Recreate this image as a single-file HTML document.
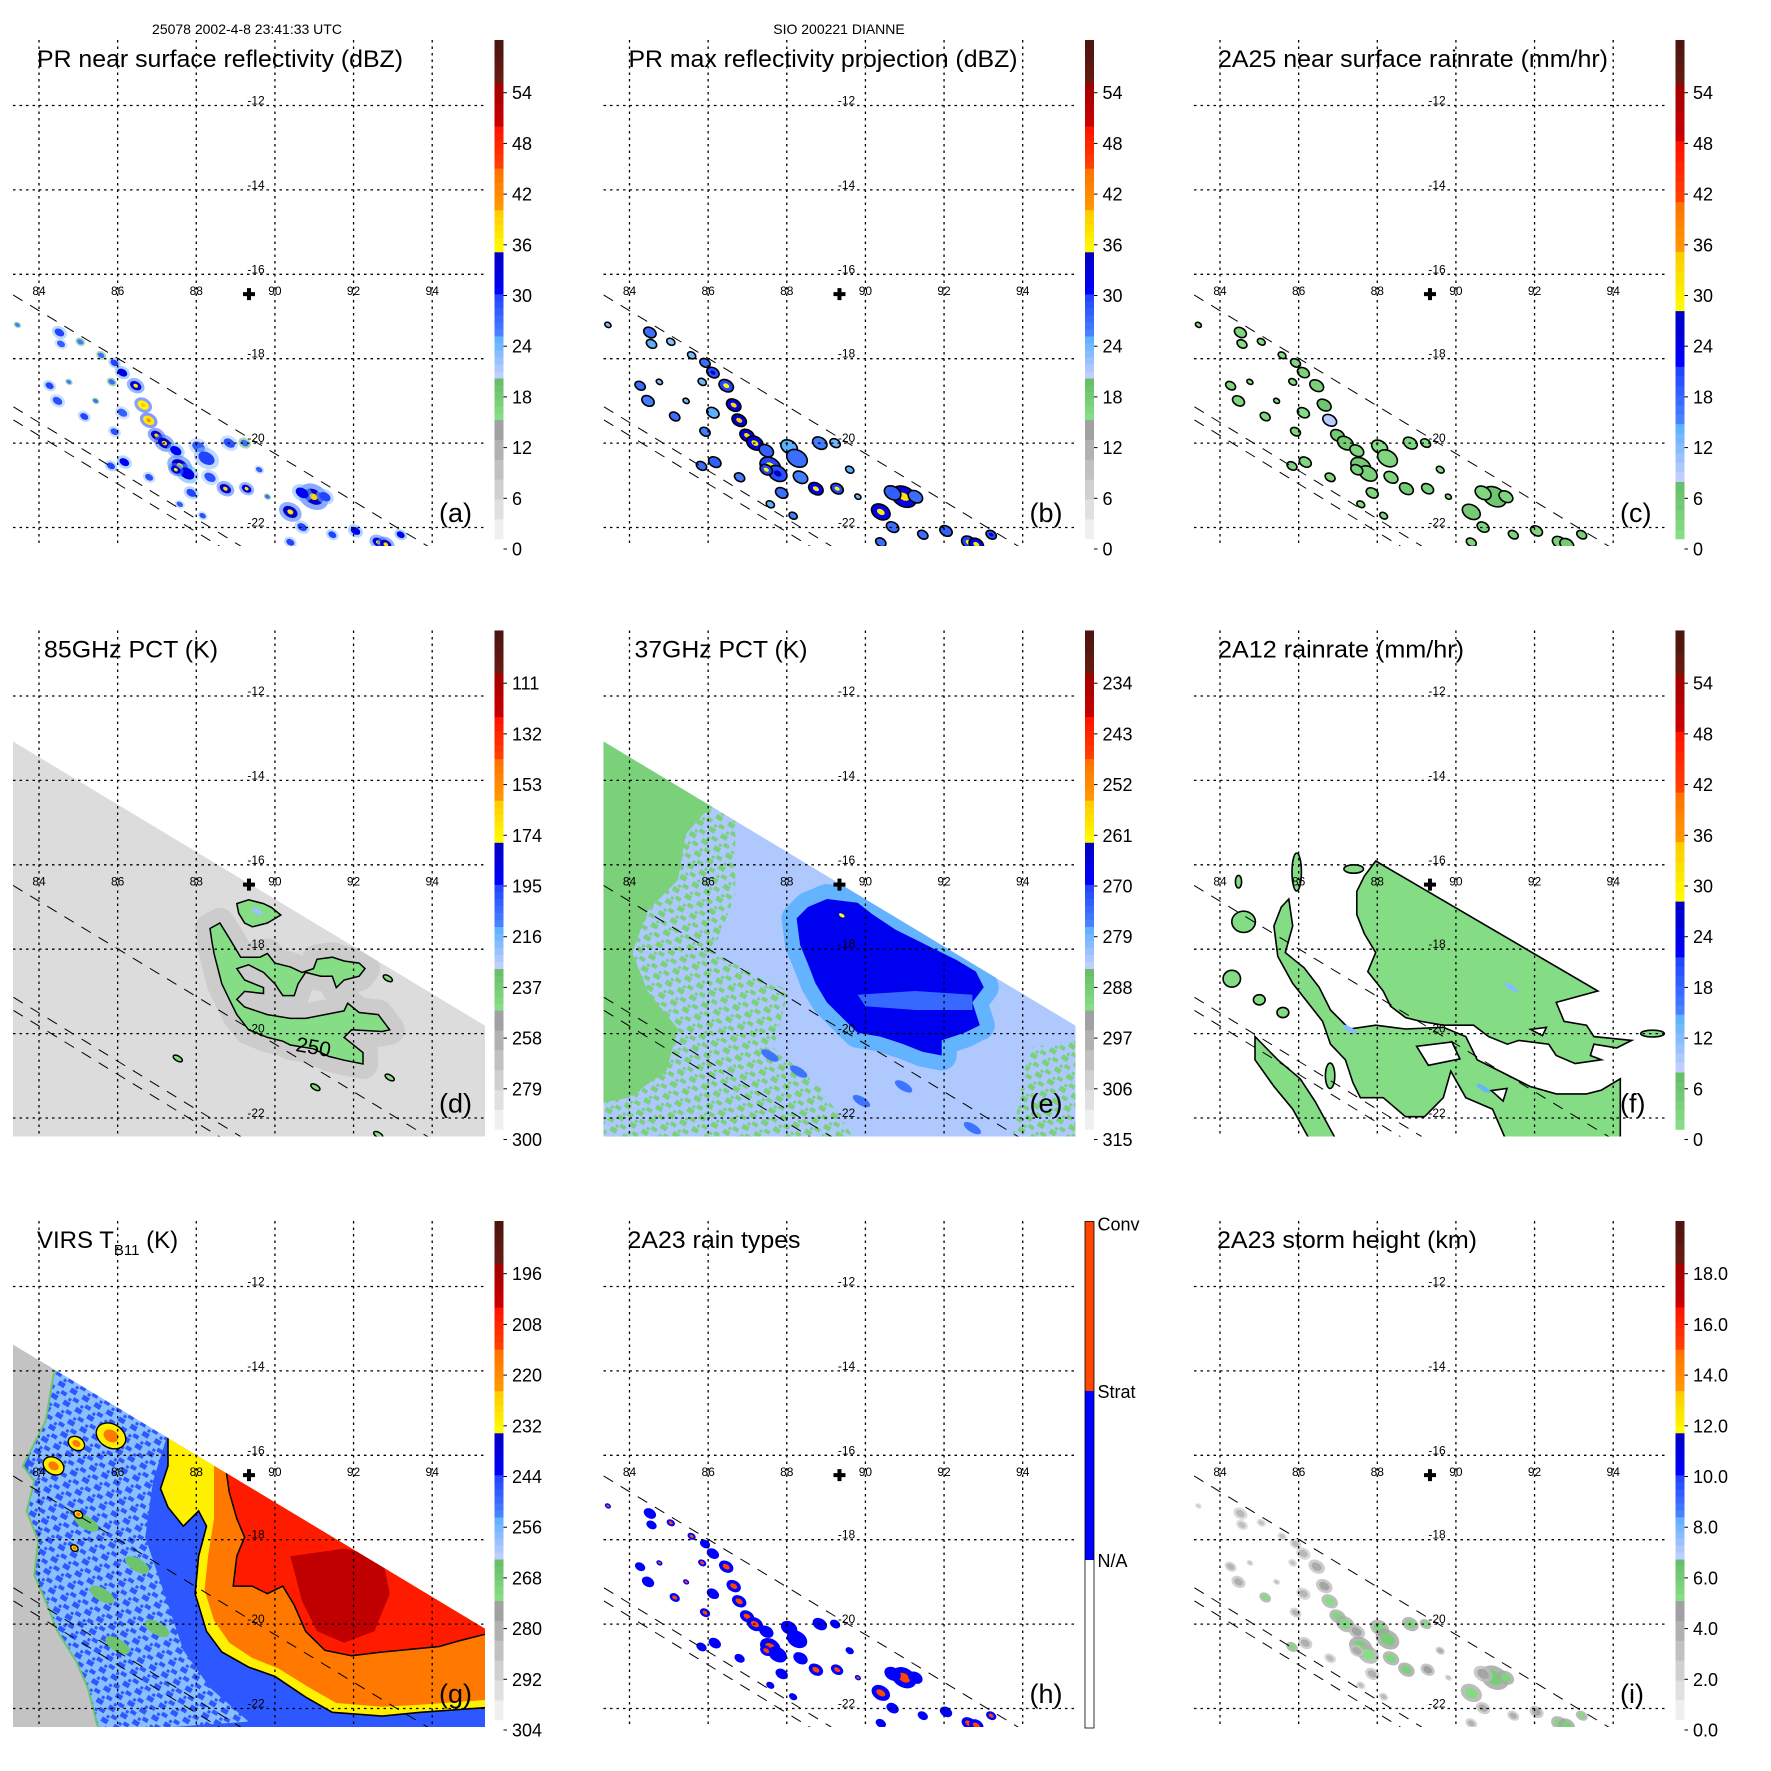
<!DOCTYPE html>
<html><head><meta charset="utf-8">
<style>html,body{margin:0;padding:0;background:#fff}svg{display:block;font-family:"Liberation Sans",Arial,sans-serif}</style>
</head><body>
<svg id="fig" width="1771" height="1771" viewBox="0 0 1771 1771" xmlns="http://www.w3.org/2000/svg">
<rect width="1771" height="1771" fill="#fff"/>
<defs id="defs"></defs>
<text x="247" y="34" font-size="14" text-anchor="middle">25078 2002-4-8 23:41:33 UTC</text>
<text x="839" y="34" font-size="14" text-anchor="middle">SIO 200221 DIANNE</text>
</svg>
<script>
const NS='http://www.w3.org/2000/svg';
const lonTicks=[84,86,88,90,92,94];
const latTicks=[-12,-14,-16,-18,-20,-22];
const centerLon=89.34, centerLat=-16.47;
// PR cells
const cellLon=[84.52,84.56,85.05,84.27,84.47,85.58,85.92,86.12,86.46,85.85,86.65,86.79,86.99,87.19,87.48,87.58,87.77,87.87,88.06,88.26,88.35,88.84,89.23,88.74,89.28,85.15,86.12,85.92,86.17,85.83,86.8,87.48,90.98,90.69,91.27,90.39,90.69,92.05,92.63,92.82,91.46,93.2,90.39,83.45,84.76,85.44,89.6,88.16,87.58,89.81];
const cellLat=[-17.38,-17.65,-17.6,-18.64,-19.0,-17.92,-18.1,-18.33,-18.64,-18.55,-19.1,-19.46,-19.82,-20.0,-20.18,-20.54,-20.72,-21.18,-20.09,-20.36,-20.81,-20.0,-20.0,-21.08,-21.08,-19.37,-19.28,-19.73,-20.45,-20.54,-20.81,-20.63,-21.27,-21.18,-21.27,-21.63,-21.99,-22.08,-22.35,-22.4,-22.17,-22.17,-22.35,-17.2,-18.55,-19.0,-20.63,-21.72,-21.45,-21.27];
const cellSize=[0.12,0.10,0.08,0.10,0.12,0.08,0.10,0.12,0.14,0.08,0.14,0.14,0.14,0.16,0.14,0.2,0.18,0.12,0.16,0.2,0.14,0.14,0.1,0.14,0.12,0.1,0.12,0.1,0.12,0.1,0.1,0.12,0.24,0.16,0.14,0.18,0.12,0.12,0.14,0.14,0.1,0.1,0.1,0.06,0.06,0.06,0.08,0.08,0.08,0.06];
const cellDbz=[30,28,26,30,29,27,30,32,33,27,36,37,35,34,31,33,32,30,28,30,29,29,27,34,33,30,28,29,31,30,29,33,35,31,30,34,30,31,33,34,30,32,30,26,26,27,28,29,28,27];
const cellMaxDbz=[33,31,29,33,32,30,33,35,36,30,39,40,38,37,34,36,35,33,31,33,32,32,30,37,36,33,31,32,34,33,32,36,38,34,33,37,33,34,36,37,33,35,33,29,29,30,31,32,31,30];
const cellRain=[3,2,2,3,3,2,3,4,4,2,6,9,5,5,3,5,4,3,2,3,3,3,2,5,4,3,2,3,3,3,3,4,6,3,3,5,3,3,4,5,3,4,3,1,1,2,2,3,2,2];
const cellType=[1,1,2,1,1,2,1,1,2,2,2,2,2,2,1,2,1,1,1,1,1,1,1,2,2,2,1,2,1,1,1,2,2,1,1,2,1,1,2,2,1,2,1,2,2,2,1,1,1,2];
const cellHeight=[3.5,3.2,3.0,3.8,4.0,3.0,3.4,3.6,4.2,3.0,4.5,5.2,5.5,5.4,4.6,5.8,5.2,4.0,5.6,5.9,5.5,5.6,5.4,5.7,4.8,5.3,3.6,3.8,4.0,5.5,3.4,4.2,5.9,4.5,5.6,5.3,4.2,4.4,5.5,5.8,4.0,5.4,3.8,2.5,2.8,3.0,4.0,3.5,3.2,3.0];
// swaths
const pmiSwath=[[83.2,-13.0],[95.5,-19.9],[95.5,-23],[83.2,-23]];
const virsSwath=[[83.2,-13.3],[95.5,-20.2],[95.5,-23],[83.2,-23]];
const prEdgeUpper=[[83.34,-16.49],[93.9,-22.45]];
const prEdgeLower=[[83.35,-19.14],[89.13,-22.44]];
const prEdgeLower2=[[83.35,-19.45],[88.6,-22.45]];
// 85 GHz PCT
const pct85Background=281, pct85HaloValue=266, pct85CoreValue=245;
const pct85Main=[[88.35,-17.51],[88.6,-17.38],[88.84,-17.74],[89.13,-18.19],[89.62,-18.19],[89.81,-18.1],[90.0,-18.33],[90.39,-18.42],[90.69,-18.55],[90.98,-18.46],[91.07,-18.24],[91.46,-18.19],[91.76,-18.28],[92.14,-18.33],[92.29,-18.46],[92.14,-18.64],[91.76,-18.73],[91.56,-18.91],[91.46,-18.64],[91.17,-18.64],[90.78,-18.55],[90.59,-18.82],[90.49,-19.1],[90.2,-19.1],[90.0,-18.82],[89.71,-18.55],[89.33,-18.37],[89.03,-18.46],[89.23,-18.73],[89.71,-18.91],[89.71,-19.05],[89.23,-19.0],[89.03,-19.19],[89.23,-19.37],[89.81,-19.55],[90.39,-19.64],[90.78,-19.64],[91.27,-19.55],[91.76,-19.46],[91.85,-19.28],[92.14,-19.5],[92.63,-19.55],[92.92,-19.91],[92.73,-19.95],[91.95,-19.91],[91.76,-20.09],[92.24,-20.45],[92.24,-20.72],[91.76,-20.63],[91.37,-20.54],[90.98,-20.36],[90.39,-20.27],[90.2,-20.18],[89.81,-20.09],[89.33,-19.91],[89.03,-19.55],[88.84,-19.19],[88.65,-18.82],[88.55,-18.46],[88.45,-18.1],[88.4,-17.83]];
const pct85Top=[[89.03,-16.92],[89.33,-16.83],[89.71,-16.92],[89.91,-17.01],[90.15,-17.19],[89.81,-17.38],[89.43,-17.47],[89.23,-17.38],[89.08,-17.15]];
const pct85BlobLon=[92.87,87.53,92.92,91.03,92.63];
const pct85BlobLat=[-18.69,-20.59,-21.04,-21.27,-22.4];
// 37 GHz PCT
const pct37Background=283, pct37Green=289, pct37Ring=278, pct37CoreValue=268, pct37Inner=274;
const pct37GreenSolid=[[83.0,-12.85],[86.11,-14.55],[85.43,-15.28],[85.23,-16.36],[84.46,-17.09],[84.07,-18.08],[84.46,-18.99],[85.23,-19.89],[84.94,-20.88],[83.97,-21.52],[83.0,-21.7]];
const pct37GreenMixed=[[83.0,-12.85],[86.69,-14.91],[86.69,-16.72],[86.11,-18.08],[88.05,-18.99],[87.66,-20.34],[88.83,-21.25],[89.8,-22.6],[83.0,-22.6]];
const pct37GreenSE=[[94.17,-20.34],[95.6,-20.1],[95.6,-22.7],[93.69,-22.7],[93.88,-21.7]];
const pct37Core=[[88.25,-17.27],[88.54,-17.0],[89.02,-16.81],[89.8,-16.9],[90.19,-17.18],[90.77,-17.54],[91.55,-17.9],[92.33,-18.26],[92.81,-18.53],[93.01,-18.9],[92.72,-19.26],[92.91,-19.8],[92.52,-19.98],[91.94,-20.16],[91.94,-20.52],[91.45,-20.43],[90.97,-20.25],[90.38,-20.07],[89.8,-19.98],[89.41,-19.62],[89.02,-19.26],[88.73,-18.81],[88.54,-18.35],[88.34,-17.9]];
const pct37Band=[[89.8,-19.08],[91.26,-18.99],[92.72,-19.08],[92.72,-19.44],[91.26,-19.44],[90.0,-19.35]];
const pct37SpotLon=[90.97,87.57,92.72,89.9,88.3];
const pct37SpotLat=[-21.25,-20.52,-22.24,-21.6,-20.9];
// 2A12 rain
const rain12Value=2;
const rain12A=[[87.96,-15.91],[93.61,-18.99],[92.55,-19.26],[92.75,-19.71],[93.32,-19.8],[93.51,-20.07],[94.47,-20.16],[94.09,-20.34],[93.51,-20.25],[93.42,-20.52],[93.7,-20.62],[93.03,-20.71],[92.55,-20.52],[92.36,-20.25],[91.6,-20.16],[91.31,-20.25],[90.83,-20.07],[90.45,-19.8],[89.68,-19.8],[89.11,-19.71],[88.72,-19.62],[88.34,-19.35],[88.15,-18.99],[87.76,-18.53],[87.96,-18.08],[87.67,-17.63],[87.48,-17.18],[87.48,-16.63],[87.67,-16.27]];
const rain12B=[[85.75,-16.81],[85.85,-17.45],[85.66,-18.08],[86.14,-18.44],[86.52,-18.9],[86.81,-19.44],[87.29,-19.89],[87.96,-19.8],[88.72,-19.89],[89.68,-19.85],[90.25,-20.07],[90.54,-20.62],[91.31,-20.98],[91.88,-21.25],[92.55,-21.43],[93.32,-21.43],[93.7,-21.34],[94.18,-21.07],[94.18,-22.6],[91.31,-22.6],[90.93,-21.79],[90.25,-21.52],[89.87,-20.89],[89.68,-21.52],[89.2,-21.97],[88.72,-21.97],[88.15,-21.52],[87.57,-21.52],[87.38,-21.16],[87.19,-20.62],[86.81,-20.25],[86.61,-19.71],[86.23,-19.26],[85.85,-18.81],[85.47,-18.17],[85.37,-17.45],[85.56,-17.0]];
const rain12C=[[84.89,-20.07],[85.47,-20.62],[86.04,-21.07],[86.42,-21.61],[87.0,-22.6],[86.33,-22.6],[85.85,-21.79],[85.37,-21.25],[84.89,-20.62]];
const rain12Holes=[[[89.0,-20.3],[89.9,-20.2],[90.1,-20.6],[89.3,-20.75]],[[91.9,-19.9],[92.3,-19.85],[92.2,-20.05]],[[90.9,-21.35],[91.3,-21.3],[91.2,-21.6]]];
const rain12BlobLon=[85.95,84.6,84.3,85.0,84.47,87.4,95.0,86.8,85.6];
const rain12BlobLat=[-16.17,-17.35,-18.7,-19.2,-16.4,-16.1,-20.0,-21.0,-19.5];
const rain12BlobRx=[0.12,0.3,0.22,0.15,0.08,0.25,0.3,0.12,0.15];
const rain12BlobRy=[0.45,0.25,0.2,0.12,0.15,0.1,0.08,0.3,0.12];
// VIRS
const virsBase=247, virsLight=258, virsGreyValue=286, virsYellow=231, virsOrange=216, virsRed=206, virsDarkRed=201, virsGreen=266;
const virsLightRegion=[[83.98,-13.4],[87.38,-15.18],[86.9,-16.61],[86.7,-17.94],[87.19,-19.28],[87.67,-20.62],[88.35,-21.51],[89.33,-22.31],[84.95,-22.6],[83.2,-22.6]];
const virsGrey=[[83.2,-12.9],[84.56,-13.67],[84.37,-14.11],[84.17,-15.18],[83.79,-15.89],[83.59,-16.25],[83.88,-16.61],[83.69,-17.32],[83.98,-18.03],[83.88,-18.84],[84.17,-19.46],[84.47,-20.17],[84.95,-20.89],[85.24,-21.51],[85.54,-22.6],[83.2,-22.6]];
const virsYellowPoly=[[87.28,-15.27],[95.64,-19.73],[95.64,-21.96],[93.7,-22.09],[92.73,-22.18],[91.46,-22.09],[90.78,-21.73],[90.0,-21.24],[89.33,-21.02],[88.65,-20.66],[88.26,-20.17],[87.97,-19.28],[88.06,-18.39],[88.26,-17.68],[88.06,-17.32],[87.67,-17.68],[87.28,-17.23],[87.09,-16.79],[87.28,-16.25]];
const virsOrangePoly=[[88.45,-16.2],[95.64,-19.73],[95.64,-21.78],[93.7,-21.91],[92.73,-21.96],[91.56,-21.87],[90.88,-21.51],[90.1,-21.06],[89.42,-20.8],[88.84,-20.44],[88.45,-19.91],[88.21,-19.19],[88.3,-18.39],[88.45,-17.5]];
const virsRedPoly=[[88.74,-16.25],[95.64,-19.73],[95.64,-20.17],[94.67,-20.4],[94.18,-20.53],[93.21,-20.62],[92.73,-20.66],[91.95,-20.75],[91.27,-20.62],[90.78,-20.17],[90.49,-19.55],[90.2,-19.1],[89.81,-19.28],[89.42,-19.1],[88.94,-19.1],[89.03,-18.39],[89.23,-17.94],[89.03,-17.5],[88.84,-16.88]];
const virsDarkPoly=[[90.39,-18.39],[91.76,-18.21],[92.73,-18.39],[92.92,-19.28],[92.53,-20.17],[91.76,-20.44],[91.07,-20.17],[90.69,-19.46]];
const virsBlobLon=[85.83,84.95,84.37,85.0,84.9];
const virsBlobLat=[-15.54,-15.72,-16.25,-17.4,-18.2];
const virsBlobR=[0.4,0.22,0.28,0.12,0.1];
const virsGreenLon=[85.6,86.0,84.8,86.5,85.2,87.0];
const virsGreenLat=[-19.3,-20.5,-21.3,-18.6,-17.6,-20.1];
// colorbar tick labels
const ticksDbz=['0','6','12','18','24','30','36','42','48','54'];
const ticks85=['300','279','258','237','216','195','174','153','132','111'];
const ticks37=['315','306','297','288','279','270','261','252','243','234'];
const ticksRain=['0','6','12','18','24','30','36','42','48','54'];
const ticksVirs=['304','292','280','268','256','244','232','220','208','196'];
const ticksHeight=['0.0','2.0','4.0','6.0','8.0','10.0','12.0','14.0','16.0','18.0'];
const ticksRainType=['N/A','Strat','Conv'];

const STD=[[0.2,2.55,'#f8f8f8','#999999'],[2.55,3.37,'#88e088','#66bb66'],[3.37,4.2,'#c8d0ff','#58b0ff'],[4.2,5.03,'#4a88ff','#2040ff'],[5.03,5.86,'#0000ff','#0000c0'],[5.86,6.69,'#ffff00','#ffc800'],[6.69,7.51,'#ff9a00','#ff7000'],[7.51,8.34,'#ff4400','#ff1000'],[8.34,9.2,'#cc0000','#a00000'],[9.2,10.04,'#6a1a10','#4a1410']];
const RAIN=[[0.2,1.33,'#88e088','#66bb66'],[1.33,2.47,'#c8d0ff','#58b0ff'],[2.47,3.6,'#4a88ff','#2040ff'],[3.6,4.7,'#0000ff','#0000c0'],[4.7,5.87,'#ffff00','#ffc800'],[5.87,6.85,'#ff9a00','#ff7000'],[6.85,8.05,'#ff4400','#ff1000'],[8.05,9.18,'#cc0000','#a00000'],[9.18,10.04,'#6a1a10','#4a1410']];
function hx(c){return [parseInt(c.substr(1,2),16),parseInt(c.substr(3,2),16),parseInt(c.substr(5,2),16)];}
function mix(a,b,t){const A=hx(a),B=hx(b);return 'rgb('+A.map((v,i)=>Math.round(v+(B[i]-v)*t)).join(',')+')';}
function cmap(segs,idx){if(idx<=segs[0][0])return segs[0][2];for(const s of segs){if(idx<=s[1]){return mix(s[2],s[3],(idx-s[0])/(s[1]-s[0]));}}const l=segs[segs.length-1];return l[3];}
const idxDbz=v=>v/6, idx85=v=>(300-v)/21, idx37=v=>(315-v)/9, idxRain=v=>v/6, idxVirs=v=>(304-v)/12, idxH=v=>v/2;

const X=lon=>39+(lon-84)*39.32;
const Y=lat=>105.5+(-lat-12)*42.2;
const cbY=i=>549-i*50.7;
function pathOf(pts){return 'M'+pts.map(p=>X(p[0]).toFixed(1)+','+Y(p[1]).toFixed(1)).join('L')+'Z';}
function mk(tag,attrs,parent){const e=document.createElementNS(NS,tag);for(const k in attrs)e.setAttribute(k,attrs[k]);if(parent)parent.appendChild(e);return e;}
const svg=document.getElementById('fig');
const defs=document.getElementById('defs');

function addPoly(par,pts,fill,name,extra){
  const p=mk('path',Object.assign({d:pathOf(pts),fill:fill},extra||{}),par);
  
  
  return p;
}
function addEll(par,lon,lat,rx,ry,fill,name,extra){
  const e=mk('ellipse',Object.assign({cx:X(lon).toFixed(1),cy:Y(lat).toFixed(1),rx:(rx*39.32).toFixed(1),ry:(ry*42.2).toFixed(1),fill:fill,transform:'rotate(31 '+X(lon).toFixed(1)+' '+Y(lat).toFixed(1)+')'},extra||{}),par);
  
  
  return e;
}

function pattern(id,bg,fg){
  const p=mk('pattern',{id:id,width:14,height:14,patternUnits:'userSpaceOnUse',patternTransform:'rotate(31)'},defs);
  mk('rect',{width:14,height:14,fill:bg},p);
  mk('rect',{x:0,y:0,width:7,height:5,fill:fg},p);
  mk('rect',{x:7,y:7,width:6,height:4,fill:fg},p);
  mk('rect',{x:3,y:10,width:3,height:3,fill:fg},p);
}
pattern('mixGreen',cmap(STD,idx37(pct37Background)),cmap(STD,idx37(pct37Green)));
pattern('mixVirs',cmap(STD,idxVirs(virsLight)),cmap(STD,idxVirs(virsBase)));

const panels=[
 {k:'a',c:0,r:0,title:'PR near surface reflectivity (dBZ)',tx:37,tw:366,ticks:ticksDbz,segs:STD},
 {k:'b',c:1,r:0,title:'PR max reflectivity projection (dBZ)',tx:38,tw:389,ticks:ticksDbz,segs:STD},
 {k:'c',c:2,r:0,title:'2A25 near surface rainrate (mm/hr)',tx:37,tw:390,ticks:ticksRain,segs:RAIN},
 {k:'d',c:0,r:1,title:'85GHz PCT (K)',tx:44,tw:174,ticks:ticks85,segs:STD},
 {k:'e',c:1,r:1,title:'37GHz PCT (K)',tx:44,tw:173,ticks:ticks37,segs:STD},
 {k:'f',c:2,r:1,title:'2A12 rainrate (mm/hr)',tx:37,tw:246,ticks:ticksRain,segs:RAIN},
 {k:'g',c:0,r:2,title:'VIRS',tx:37,tw:146,ticks:ticksVirs,segs:STD},
 {k:'h',c:1,r:2,title:'2A23 rain types',tx:37,tw:173,ticks:null,segs:null},
 {k:'i',c:2,r:2,title:'2A23 storm height (km)',tx:36,tw:260,ticks:ticksHeight,segs:STD}
];
const offs=[0,590.5,1181];

function drawCells(par,k){
  const n=Math.min(cellLon.length,cellLat.length,cellSize.length);
  for(let i=0;i<n;i++){
    const lo=cellLon[i],la=cellLat[i],s=cellSize[i];
    if(k==='a'){
      addEll(par,lo,la,s*1.7,s*1.2,cmap(STD,idxDbz(cellDbz[i]-7)),'reflectivity-halo',{opacity:0.55});
      addEll(par,lo,la,s*1.1,s*0.7,cmap(STD,idxDbz(cellDbz[i])),'reflectivity-cell');
      if(cellDbz[i]>=33)addEll(par,lo,la,s*0.45,s*0.3,cmap(STD,idxDbz(cellDbz[i]+4)),'reflectivity-core');
    }else if(k==='b'){
      addEll(par,lo,la,s*1.4,s*0.95,cmap(STD,idxDbz(cellMaxDbz[i]-6)),'max-reflectivity-cell',{stroke:'#000','stroke-width':1.6});
      if(cellMaxDbz[i]>=35)addEll(par,lo,la,s*0.6,s*0.35,cmap(STD,idxDbz(cellMaxDbz[i])),'max-reflectivity-core');
    }else if(k==='c'){
      addEll(par,lo,la,s*1.35,s*0.9,cmap(RAIN,idxRain(cellRain[i])),'rainrate-cell',{stroke:'#000','stroke-width':1.6});
      if(cellRain[i]>=8)addEll(par,lo,la,s*0.5,s*0.3,cmap(RAIN,idxRain(cellRain[i])),'rainrate-core');
    }else if(k==='h'){
      addEll(par,lo,la,s*1.4,s*0.95,'#0000ff','stratiform-cell');
      if(cellType[i]===2)addEll(par,lo,la,s*0.7,s*0.4,'#ff4500','convective-cell');
    }else if(k==='i'){
      addEll(par,lo,la,s*1.6,s*1.1,cmap(STD,idxH(cellHeight[i]-1.2)),'storm-height-halo',{opacity:0.8});
      addEll(par,lo,la,s*1.0,s*0.65,cmap(STD,idxH(cellHeight[i])),'storm-height-cell');
    }
  }
}

panels.forEach(P=>{
  const ox=offs[P.c], oy=offs[P.r];
  const g=mk('g',{transform:'translate('+ox+','+oy+')'},svg);
  
  
  const cp=mk('clipPath',{id:'clip-'+P.k},defs);
  mk('rect',{x:13,y:40,width:472,height:506},cp);
  const field=mk('g',{'clip-path':'url(#clip-'+P.k+')'},g);
  
  
  const k=P.k;
  if(k==='d'){
    addPoly(field,pmiSwath,cmap(STD,idx85(pct85Background)),'tmi-swath');
    const sc=mk('clipPath',{id:'sw-d'},defs); mk('path',{d:pathOf(pmiSwath)},sc);
    const f2=mk('g',{'clip-path':'url(#sw-d)'},field);
    addPoly(f2,pct85Main,cmap(STD,idx85(pct85HaloValue)),'pct85-halo',{stroke:cmap(STD,idx85(pct85HaloValue)),'stroke-width':30,'stroke-linejoin':'round',opacity:0.55});
    addPoly(f2,pct85Main,cmap(STD,idx85(pct85CoreValue)),'pct85-contour-250',{stroke:'#000','stroke-width':1.5});
    addPoly(f2,pct85Top,cmap(STD,idx85(pct85CoreValue)),'pct85-contour-north',{stroke:'#000','stroke-width':1.5});
    addEll(f2,89.55,-17.1,0.15,0.06,cmap(STD,idx85(222)),'pct85-low-spot');
    for(let i=0;i<pct85BlobLon.length;i++)addEll(f2,pct85BlobLon[i],pct85BlobLat[i],0.13,0.06,cmap(STD,idx85(pct85CoreValue)),'pct85-blob',{stroke:'#000','stroke-width':1.5});
    const t=mk('text',{x:X(90.98),y:Y(-20.32)+7,'font-size':21,'text-anchor':'middle',transform:'rotate(10 '+X(90.98)+' '+Y(-20.32)+')'},f2);
    
    
    t.textContent='250';
  }
  if(k==='e'){
    addPoly(field,pmiSwath,cmap(STD,idx37(pct37Background)),'tmi-swath');
    const sc=mk('clipPath',{id:'sw-e'},defs); mk('path',{d:pathOf(pmiSwath)},sc);
    const f2=mk('g',{'clip-path':'url(#sw-e)'},field);
    addPoly(f2,pct37GreenMixed,'url(#mixGreen)','pct37-mixed-region');
    addPoly(f2,pct37GreenSE,'url(#mixGreen)','pct37-mixed-southeast');
    addPoly(f2,pct37GreenSolid,cmap(STD,idx37(pct37Green)),'pct37-warm-region');
    addPoly(f2,pct37Core,cmap(STD,idx37(pct37Ring)),'pct37-ring',{stroke:cmap(STD,idx37(pct37Ring)),'stroke-width':30,'stroke-linejoin':'round'});
    addPoly(f2,pct37Core,cmap(STD,idx37(pct37CoreValue)),'pct37-core');
    addPoly(f2,pct37Band,cmap(STD,idx37(pct37Inner)),'pct37-inner-band');
    for(let i=0;i<pct37SpotLon.length;i++)addEll(f2,pct37SpotLon[i],pct37SpotLat[i],0.25,0.1,cmap(STD,idx37(pct37Ring-3)),'pct37-spot');
    addEll(f2,89.4,-17.2,0.08,0.04,'#ffff00','pct37-min-spot');
  }
  if(k==='f'){
    const col=cmap(RAIN,idxRain(rain12Value));
    [rain12A,rain12B,rain12C].forEach((poly,j)=>addPoly(field,poly,col,'rainrate-area-'+j,{stroke:'#000','stroke-width':1.6}));
    rain12Holes.forEach(h=>addPoly(field,h,'#fff','rainrate-hole',{stroke:'#000','stroke-width':1.6}));
    for(let i=0;i<rain12BlobLon.length;i++)addEll(field,rain12BlobLon[i],rain12BlobLat[i],rain12BlobRx[i],rain12BlobRy[i],col,'rainrate-blob',{stroke:'#000','stroke-width':1.6,transform:''});
    addEll(field,91.4,-18.9,0.2,0.06,cmap(RAIN,idxRain(12)),'rainrate-spot');
    addEll(field,87.3,-19.9,0.2,0.06,cmap(RAIN,idxRain(12)),'rainrate-spot');
    addEll(field,90.7,-21.3,0.2,0.06,cmap(RAIN,idxRain(14)),'rainrate-spot');
  }
  if(k==='g'){
    const sc=mk('clipPath',{id:'sw-g'},defs); mk('path',{d:pathOf(virsSwath)},sc);
    const f2=mk('g',{'clip-path':'url(#sw-g)'},field);
    addPoly(f2,virsSwath,cmap(STD,idxVirs(virsBase)),'virs-swath');
    addPoly(f2,virsLightRegion,'url(#mixVirs)','virs-light-region');
    for(let i=0;i<virsGreenLon.length;i++)addEll(f2,virsGreenLon[i],virsGreenLat[i],0.35,0.15,cmap(STD,idxVirs(virsGreen)),'virs-green-patch');
    addPoly(f2,virsGrey,cmap(STD,idxVirs(virsGreyValue)),'virs-clear-region',{stroke:cmap(STD,idxVirs(virsGreen)),'stroke-width':2});
    addPoly(f2,virsYellowPoly,cmap(STD,idxVirs(virsYellow)),'virs-yellow',{stroke:'#000','stroke-width':1.6});
    addPoly(f2,virsOrangePoly,cmap(STD,idxVirs(virsOrange)),'virs-orange');
    addPoly(f2,virsRedPoly,cmap(STD,idxVirs(virsRed)),'virs-red',{stroke:'#000','stroke-width':1.5});
    addPoly(f2,virsDarkPoly,cmap(STD,idxVirs(virsDarkRed)),'virs-dark-red');
    for(let i=0;i<virsBlobLon.length;i++){
      addEll(f2,virsBlobLon[i],virsBlobLat[i],virsBlobR[i],virsBlobR[i]*0.7,cmap(STD,idxVirs(virsYellow)),'virs-cold-blob',{stroke:'#000','stroke-width':1.4});
      addEll(f2,virsBlobLon[i],virsBlobLat[i],virsBlobR[i]*0.5,virsBlobR[i]*0.35,cmap(STD,idxVirs(virsOrange)),'virs-cold-blob-core');
    }
  }
  if(['a','b','c','h','i'].includes(k))drawCells(field,k);
  const grid=mk('g',{stroke:'#000','stroke-width':1.3,'stroke-dasharray':'2.5 4',fill:'none'},g);
  
  
  lonTicks.forEach(lo=>{const l=mk('line',{x1:X(lo),x2:X(lo),y1:40,y2:546},grid);});
  latTicks.forEach(la=>{const l=mk('line',{x1:13,x2:485,y1:Y(la),y2:Y(la)},grid);});
  const sw=mk('g',{stroke:'#000','stroke-width':1,'stroke-dasharray':'11 9','clip-path':'url(#clip-'+k+')'},g);
  
  
  [prEdgeUpper,prEdgeLower,prEdgeLower2].forEach(ed=>{const l=mk('line',{x1:X(ed[0][0]),y1:Y(ed[0][1]),x2:X(ed[1][0]),y2:Y(ed[1][1])},sw);});
  lonTicks.forEach(lo=>{const t=mk('text',{x:X(lo),y:295,'font-size':12,'text-anchor':'middle'},g);t.textContent=String(lo);});
  latTicks.forEach(la=>{const t=mk('text',{x:256,y:Y(la)-1,'font-size':12,'text-anchor':'middle'},g);t.textContent=String(la);});
  const cx=X(centerLon),cy=Y(centerLat);
  const cr=mk('path',{d:'M'+(cx-6)+','+cy+'H'+(cx+6)+'M'+cx+','+(cy-6)+'V'+(cy+6),stroke:'#000','stroke-width':4},g);
  
  
  const tt=mk('text',{x:P.tx,y:67,'font-size':24},g);
  
  
  if(k==='g'){
    tt.innerHTML='VIRS T<tspan font-size="15" dy="7">B11</tspan><tspan dy="-7"> (K)</tspan>';
  }else{
    tt.setAttribute('textLength',P.tw);
    tt.setAttribute('lengthAdjust','spacingAndGlyphs');
    tt.textContent=P.title;
  }
  const lt=mk('text',{x:439,y:522,'font-size':27},g);
  
  
  lt.textContent='('+k+')';
  const cb=mk('g',{},g);
  
  
  if(P.segs){
    P.segs.forEach(s=>{
      const n=6;
      for(let j=0;j<n;j++){
        const i0=s[0]+(s[1]-s[0])*j/n,i1=s[0]+(s[1]-s[0])*(j+1)/n;
        const r=mk('rect',{x:494.5,y:cbY(i1),width:9,height:(cbY(i0)-cbY(i1))+0.4,fill:mix(s[2],s[3],(j+0.5)/n)},cb);
        
        
      }
    });
    P.ticks.forEach((lab,i)=>{
      const tk=mk('line',{x1:503.5,x2:507,y1:cbY(i),y2:cbY(i),stroke:'#000','stroke-width':1},cb);
      
      
      const t=mk('text',{x:512,y:cbY(i)+6.5,'font-size':18},cb);
      
      
      t.textContent=lab;
    });
  }else{
    const cols=['#ffffff','#0000ff','#ff4500'];
    const edges=[547,379,210,40.5];
    for(let i=0;i<3;i++){
      const r=mk('rect',{x:494.5,y:edges[i+1],width:9,height:edges[i]-edges[i+1],fill:cols[i]},cb);
      
      
    }
    const bd=mk('rect',{x:494.5,y:40.5,width:9,height:506.5,fill:'none',stroke:'#000','stroke-width':0.8},cb);
    
    
    ticksRainType.forEach((lab,i)=>{
      const t=mk('text',{x:507,y:edges[i+1]+(i===2?9:7),'font-size':18},cb);
      
      
      t.textContent=lab;
    });
  }
});
</script>
</body></html>
